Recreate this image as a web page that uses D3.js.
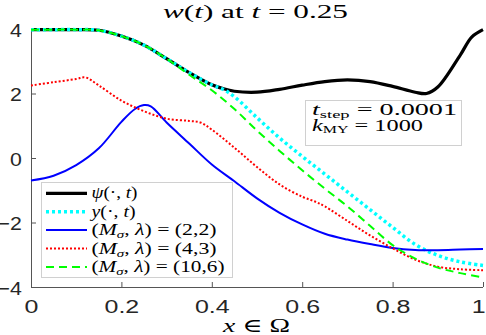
<!DOCTYPE html>
<meta charset="utf-8">
<style>
body { margin: 0; background: #fff; }
.tick text { font-family: "Liberation Sans", Arial, sans-serif; font-size: 18.5px; fill: #262626; }
.math { font-family: "Liberation Serif", "DejaVu Serif", serif; fill: #000; }
</style>
<body>
<script src="https://d3js.org/d3.v7.min.js"></script>
<script>

var width = 486,
    height = 335,
    margin = {top: 29, right: 3, bottom: 48, left: 31};

// tick values
var xTicks = [0, 0.2, 0.4, 0.6, 0.8, 1];
var yTicks = [-4, -2, 0, 2, 4];

// psi(.,t)  black
var psiX = [0, 0.05, 0.1, 0.15, 0.2, 0.25, 0.3, 0.35, 0.4, 0.425, 0.45, 0.5, 0.55, 0.6, 0.65, 0.7, 0.75, 0.8, 0.85, 0.875, 0.9, 0.95, 0.975, 1];
var psiY = [3.98, 3.98, 3.98, 3.96, 3.78, 3.5, 3.08, 2.65, 2.27, 2.15, 2.07, 2.04, 2.13, 2.26, 2.37, 2.42, 2.37, 2.22, 2.04, 2.0, 2.2, 3.2, 3.75, 3.98];

// y(.,t)  cyan dotted
var yX = [0, 0.05, 0.1, 0.15, 0.2, 0.25, 0.3, 0.35, 0.4, 0.425, 0.45, 0.5, 0.55, 0.6, 0.65, 0.7, 0.75, 0.8, 0.85, 0.9, 0.95, 1];
var yY = [3.98, 3.98, 3.98, 3.96, 3.78, 3.5, 3.08, 2.65, 2.27, 2.13, 1.9, 1.25, 0.62, 0.05, -0.5, -1.05, -1.6, -2.15, -2.68, -3.02, -3.22, -3.33];

// (M, lambda) = (2,2)  blue
var b22X = [0, 0.05, 0.1, 0.15, 0.2, 0.23, 0.25, 0.265, 0.3, 0.35, 0.4, 0.45, 0.5, 0.55, 0.6, 0.65, 0.7, 0.75, 0.8, 0.85, 0.9, 0.95, 1];
var b22Y = [-0.7, -0.55, -0.22, 0.3, 1.12, 1.52, 1.64, 1.6, 1.1, 0.45, -0.2, -0.72, -1.25, -1.7, -2.06, -2.35, -2.53, -2.67, -2.79, -2.85, -2.86, -2.84, -2.82];

// (4,3)  red dotted
var r43X = [0, 0.05, 0.1, 0.12, 0.15, 0.2, 0.25, 0.3, 0.35, 0.375, 0.4, 0.45, 0.5, 0.55, 0.6, 0.63, 0.65, 0.7, 0.75, 0.8, 0.85, 0.9, 0.95, 1];
var r43Y = [2.25, 2.35, 2.45, 2.5, 2.25, 1.78, 1.45, 1.22, 1.15, 1.1, 0.88, 0.32, -0.28, -0.82, -1.2, -1.36, -1.5, -1.95, -2.4, -2.8, -3.15, -3.37, -3.45, -3.48];

// (10,6)  green dashed
var g106X = [0, 0.05, 0.1, 0.15, 0.2, 0.25, 0.3, 0.35, 0.4, 0.45, 0.5, 0.55, 0.6, 0.65, 0.7, 0.75, 0.8, 0.85, 0.9, 0.95, 1];
var g106Y = [3.98, 3.98, 3.98, 3.96, 3.78, 3.5, 3.08, 2.58, 2.1, 1.52, 0.85, 0.22, -0.38, -0.95, -1.5, -2.1, -2.7, -3.12, -3.4, -3.57, -3.7];

var series = [
  {xs: psiX, ys: psiY, color: "#000", w: 3.2, dash: null},
  {xs: yX, ys: yY, color: "#00ffff", w: 3.5, dash: "3,3"},
  {xs: b22X, ys: b22Y, color: "#0000ff", w: 2, dash: null},
  {xs: r43X, ys: r43Y, color: "#ff0000", w: 2, dash: "2,2"},
  {xs: g106X, ys: g106Y, color: "#00ff00", w: 2, dash: "8,5"}
];

var svg = d3.select("body").append("svg")
    .attr("width", width)
    .attr("height", height);

var x = d3.scaleLinear().domain([0, 1]).range([margin.left, width - margin.right]);
var y = d3.scaleLinear().domain([-4, 4]).range([height - margin.bottom, margin.top]);

var line = d3.line()
    .x(function(d) { return x(d[0]); })
    .y(function(d) { return y(d[1]); })
    .curve(d3.curveCatmullRom.alpha(0.5));

// axes, ticks pointing inward
var xAxis = svg.append("g")
    .attr("transform", "translate(0," + y(-4) + ")")
    .call(d3.axisBottom(x).tickValues(xTicks).tickSize(-5).tickPadding(13)
      .tickFormat(function(d) { return d3.format("")(d); }));
var yAxis = svg.append("g")
    .attr("transform", "translate(" + x(0) + ",0)")
    .call(d3.axisLeft(y).tickValues(yTicks).tickSize(-5).tickPadding(8));
svg.selectAll(".domain").attr("stroke", "#555").attr("stroke-width", 1);
svg.selectAll(".tick line").attr("stroke", "#555");
xAxis.select(".domain").attr("d", "M" + x(0) + ",0.5H" + x(1));
yAxis.select(".domain").attr("d", "M0.5," + y(-4) + "V" + y(4));
// the reference's tick font is stretched sideways
xAxis.selectAll(".tick text").attr("transform", "scale(1.35,1)");
xAxis.selectAll(".tick text").filter(function(d) { return d === 1; })
    .attr("text-anchor", "end").attr("x", 1.5);
yAxis.selectAll(".tick text").attr("transform", "scale(1.15,1)").attr("dy", "0.4em");

var plot = svg.append("g");
series.forEach(function(s) {
  plot.append("path")
    .datum(s.xs.map(function(v, i) { return [v, s.ys[i]]; }))
    .attr("fill", "none")
    .attr("stroke", s.color)
    .attr("stroke-width", s.w)
    .attr("stroke-dasharray", s.dash)
    .attr("d", line);
});

// title
var title = svg.append("text").attr("class", "math")
    .attr("x", 163).attr("y", 17.5)
    .attr("textLength", 185).attr("lengthAdjust", "spacingAndGlyphs")
    .style("font-size", "19px");
title.append("tspan").style("font-style", "italic").text("w");
title.append("tspan").text("(");
title.append("tspan").style("font-style", "italic").text("t");
title.append("tspan").text(") at ");
title.append("tspan").style("font-style", "italic").text("t");
title.append("tspan").text(" = 0.25");

// x label
var xl = svg.append("text").attr("class", "math")
    .attr("x", 223).attr("y", 332)
    .attr("textLength", 67).attr("lengthAdjust", "spacingAndGlyphs")
    .style("font-size", "19px");
xl.append("tspan").style("font-style", "italic").text("x");
xl.append("tspan").text(" \u2208 \u03A9");

// parameter box
svg.append("rect")
    .attr("x", 305.5).attr("y", 100.5).attr("width", 156).attr("height", 45)
    .attr("fill", "#fff").attr("stroke", "#d0d0d0");
var t1 = svg.append("text").attr("class", "math").attr("x", 312).attr("y", 115)
    .attr("textLength", 145).attr("lengthAdjust", "spacingAndGlyphs").style("font-size", "16px");
t1.append("tspan").style("font-style", "italic").text("t");
t1.append("tspan").attr("dy", 2.5).style("font-size", "10.5px").text("step");
t1.append("tspan").attr("dy", -2.5).text(" = 0.0001");
var t2 = svg.append("text").attr("class", "math").attr("x", 312).attr("y", 130.5)
    .attr("textLength", 111).attr("lengthAdjust", "spacingAndGlyphs").style("font-size", "16px");
t2.append("tspan").style("font-style", "italic").text("k");
t2.append("tspan").attr("dy", 2.5).style("font-size", "10.5px").text("MY");
t2.append("tspan").attr("dy", -2.5).text(" = 1000");

// legend
var labels = [
  [["ψ", "i"], ["(·, ", ""], ["t", "i"], [")", ""]],
  [["y", "i"], ["(·, ", ""], ["t", "i"], [")", ""]],
  [["(", ""], ["M", "i"], ["σ", "s"], [", ", "u"], ["λ", "i"], [") = (2,2)", ""]],
  [["(", ""], ["M", "i"], ["σ", "s"], [", ", "u"], ["λ", "i"], [") = (4,3)", ""]],
  [["(", ""], ["M", "i"], ["σ", "s"], [", ", "u"], ["λ", "i"], [") = (10,6)", ""]]
];
var labelWidths = [46, 44, 125, 125, 133];
svg.append("rect")
    .attr("x", 41.5).attr("y", 182.5).attr("width", 191).attr("height", 95)
    .attr("fill", "#fff").attr("stroke", "#d0d0d0");
var legend = svg.selectAll("g.legendEntry")
    .data(series)
    .enter().append("g")
    .attr("class", "legendEntry")
    .attr("transform", function(d, i) { return "translate(0," + (193.3 + i * 18.4) + ")"; });
legend.append("line")
    .attr("x1", 46).attr("x2", 87)
    .attr("stroke", function(d) { return d.color; })
    .attr("stroke-width", function(d) { return d.w; })
    .attr("stroke-dasharray", function(d) { return d.dash; });
legend.append("text")
    .attr("class", "math")
    .attr("x", 91.5).attr("y", 5)
    .attr("textLength", function(d, i) { return labelWidths[i]; })
    .attr("lengthAdjust", "spacingAndGlyphs")
    .style("font-size", "16px")
    .each(function(d, i) {
      var t = d3.select(this);
      labels[i].forEach(function(p) {
        var sp = t.append("tspan").text(p[0]);
        if (p[1] === "i") sp.style("font-style", "italic");
        if (p[1] === "s") sp.style("font-style", "italic").style("font-size", "11px").attr("dy", 3);
        if (p[1] === "u") sp.attr("dy", -3);
      });
    });

</script>
